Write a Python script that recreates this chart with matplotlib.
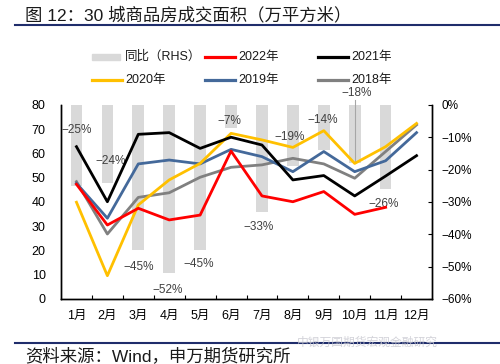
import matplotlib
matplotlib.use("Agg")
import matplotlib.pyplot as plt
import numpy as np
from matplotlib.lines import Line2D
from matplotlib.patches import Rectangle

plt.rcParams['font.family'] = ['Liberation Sans', 'Noto Sans CJK SC', 'DejaVu Sans']
plt.rcParams['axes.unicode_minus'] = True

months = ['1月', '2月', '3月', '4月', '5月', '6月', '7月', '8月', '9月', '10月', '11月', '12月']
yoy = [-25, -24, -45, -52, -45, -7, -33, -19, -14, -18, -26]
y2022 = [47.3, 30.5, 37.4, 32.6, 34.6, 61.0, 42.5, 40.1, 44.3, 34.9, 37.8]
y2021 = [62.8, 40.1, 67.9, 68.6, 62.1, 66.7, 63.5, 49.1, 50.9, 42.5, 50.7, 59.1]
y2020 = [39.9, 9.6, 38.8, 49.1, 55.9, 68.3, 65.6, 62.5, 69.4, 55.9, 62.8, 72.4]
y2019 = [47.7, 33.3, 55.7, 57.3, 55.7, 61.7, 58.7, 52.5, 60.8, 52.5, 57.0, 68.6]
y2018 = [48.4, 26.8, 41.9, 43.8, 50.2, 54.3, 55.3, 58.0, 55.7, 49.8, 60.8, 71.8]
yoy_labels = ['-25%', '-24%', '-45%', '-52%', '-45%', '-7%', '-33%', '-19%', '-14%', '-18%', '-26%']

# label placement offsets (pct units) relative to bar end
label_dy = [17.3, 6.7, -5.0, -5.2, -4.2, 2.1, -4.6, 9.2, 9.4, 21.7, -4.6]
label_dx = [0.0, 0.1, 0.0, -0.05, -0.05, -0.05, -0.1, -0.1, -0.05, 0.05, -0.05]

C_BAR = '#D9D9D9'
C22, C21, C20, C19, C18 = '#FF0000', '#000000', '#FFC000', '#44699A', '#808080'

fig = plt.figure(figsize=(5.0, 3.64), dpi=100)
ax = fig.add_axes([0.122, 0.1786, 0.742, 0.533])
ax2 = ax.twinx()

x = np.arange(len(months))
xb = np.arange(len(yoy))
ax2.bar(xb, yoy, width=0.38, color=C_BAR, zorder=1)
ax2.set_ylim(-60, 0)
ax2.set_yticks(np.arange(-60, 1, 10))
ax2.set_yticklabels([f'{v}%' if v == 0 else f'\u2212{-v}%' for v in range(-60, 1, 10)], fontsize=8.5)

for i, (lab, dy, dx) in enumerate(zip(yoy_labels, label_dy, label_dx)):
    ax2.text(xb[i] + dx, yoy[i] + dy, lab.replace('-', '\u2212'), ha='center', va='center',
             fontsize=8.5, color='#404040', zorder=5, clip_on=False)
# leader line for the 10月 label
ax2.plot([xb[9], xb[9]], [yoy[9] + 0.5, yoy[9] + 19.5], color='#A6A6A6', lw=0.8, zorder=2, clip_on=False)

ax.set_zorder(ax2.get_zorder() + 1)
ax.patch.set_visible(False)

lw = 2.0
ax.plot(x[:len(y2018)], y2018, color=C18, lw=lw, zorder=3)
ax.plot(x[:len(y2019)], y2019, color=C19, lw=lw, zorder=3)
ax.plot(x[:len(y2020)], y2020, color=C20, lw=lw, zorder=3)
ax.plot(x[:len(y2021)], y2021, color=C21, lw=lw, zorder=3)
ax.plot(x[:len(y2022)], y2022, color=C22, lw=lw, zorder=4)

ax.set_xlim(-0.5, len(months) - 0.5)
ax.set_ylim(0, 80)
ax.set_yticks(np.arange(0, 81, 10))
ax.set_yticklabels([str(v) for v in range(0, 81, 10)], fontsize=9)
ax.tick_params(axis='y', length=0, pad=11)
ax.set_xticks(x)
ax.set_xticklabels(months, fontsize=9)
ax.tick_params(axis='x', length=0, pad=8)
ax.set_xticks(np.arange(0.5, len(months) - 0.5, 1), minor=True)
ax.tick_params(axis='x', which='minor', direction='in', length=3, width=0.8)
ax2.tick_params(axis='y', direction='in', length=3, width=0.8, pad=7)

for a in (ax, ax2):
    a.spines['top'].set_visible(False)
    for s in ['left', 'right', 'bottom']:
        a.spines[s].set_linewidth(1.0)

# manual legend (figure pixel coords -> fraction)
W, H = 500.0, 364.0
def fx(px):
    return px / W
def fy(py):
    return 1 - py / H

leg_items = [
    ('bar', C_BAR, '同比（RHS）', 92, 57),
    ('line', C22, '2022年', 205, 57),
    ('line', C21, '2021年', 318, 57),
    ('line', C20, '2020年', 92, 80),
    ('line', C19, '2019年', 205, 80),
    ('line', C18, '2018年', 318, 80),
]
for kind, col, lab, px, py in leg_items:
    if kind == 'bar':
        fig.add_artist(Rectangle((fx(px), fy(py + 3)), fx(28), 6 / H, color=col, transform=fig.transFigure))
    else:
        fig.add_artist(Line2D([fx(px), fx(px + 30)], [fy(py), fy(py)], color=col, lw=2.3,
                              transform=fig.transFigure))
    fig.text(fx(px + 33), fy(py), lab, fontsize=9, va='center', ha='left', color='#1A1A1A')

# title, rules, source
fig.text(0.05, fy(15), '图 12：30 城商品房成交面积（万平方米）', fontsize=12.5, va='center', ha='left', color='#1A1A1A')
fig.add_artist(Line2D([0.03, 1.0], [fy(25), fy(25)], color='#1F2D6B', lw=1.5, transform=fig.transFigure))
fig.add_artist(Line2D([0.03, 1.0], [fy(343), fy(343)], color='#1F2D6B', lw=1.5, transform=fig.transFigure))
fig.text(0.735, fy(343), '中银万国期货宏观金融研究', fontsize=8.5, va='center', ha='center', color='#C8C8D0', alpha=0.8)
fig.text(0.05, fy(356), '资料来源：Wind，申万期货研究所', fontsize=12.5, va='center', ha='left', color='#1A1A1A')

fig.savefig('out.png', dpi=100)
